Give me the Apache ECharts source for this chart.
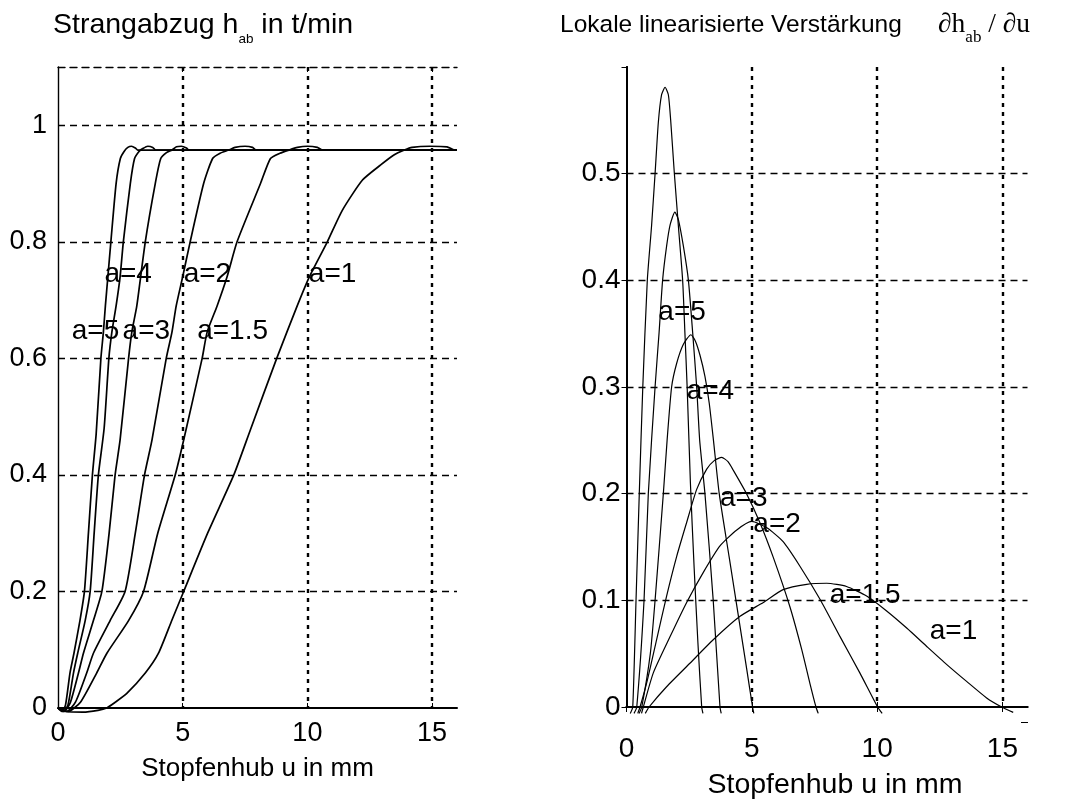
<!DOCTYPE html>
<html>
<head>
<meta charset="utf-8">
<script src="https://cdn.jsdelivr.net/npm/echarts@6/dist/echarts.min.js"></script>
<style>
  html, body { margin: 0; padding: 0; background: #fff; }
  #chart { width: 1081px; height: 799px; }
</style>
</head>
<body>
<div id="chart"></div>
<script>
// Strangabzug h_ab (t/min) über Stopfenhub u (mm) für verschiedene Formparameter a
const strangA5  = [[0,0],[0.15,-0.006],[0.3,0.005],[0.48,0.06],[0.64,0.094],[0.88,0.15],[1.06,0.2],[1.22,0.3],[1.38,0.4],[1.53,0.47],[1.72,0.6],[1.82,0.645],[1.9,0.69],[2.0,0.74],[2.12,0.8],[2.33,0.9],[2.5,0.943],[2.65,0.955],[2.8,0.962],[2.95,0.964],[3.1,0.961],[3.2,0.9575],[16,0.9575]];
const strangA4  = [[0,0],[0.2,-0.006],[0.4,0.005],[0.62,0.06],[0.79,0.094],[1.09,0.15],[1.29,0.2],[1.45,0.3],[1.62,0.4],[1.85,0.48],[2.04,0.6],[2.16,0.645],[2.33,0.69],[2.49,0.74],[2.62,0.8],[2.9,0.9],[3.07,0.943],[3.25,0.955],[3.4,0.96],[3.6,0.964],[3.8,0.962],[3.92,0.9575],[16,0.9575]];
const strangA3  = [[0,0],[0.25,-0.006],[0.5,0.01],[0.82,0.06],[1.02,0.094],[1.42,0.15],[1.76,0.2],[2.05,0.3],[2.29,0.4],[2.49,0.46],[2.83,0.6],[2.96,0.645],[3.16,0.69],[3.5,0.8],[3.9,0.9],[4.12,0.943],[4.35,0.953],[4.57,0.9575],[4.75,0.963],[4.95,0.964],[5.15,0.961],[5.25,0.9575],[16,0.9575]];
const strangA2  = [[0,0],[0.35,-0.006],[0.7,0.01],[1.15,0.06],[1.42,0.094],[2.09,0.15],[2.69,0.2],[3.1,0.3],[3.47,0.4],[3.77,0.46],[4.34,0.6],[4.57,0.645],[4.74,0.69],[5.0,0.74],[5.3,0.8],[5.84,0.9],[6.2,0.943],[6.5,0.952],[6.85,0.9575],[7.1,0.962],[7.5,0.964],[7.8,0.962],[7.95,0.9575],[16,0.9575]];
const strangA15 = [[0,0],[0.4,-0.006],[0.9,0.01],[1.55,0.06],[1.96,0.094],[2.83,0.15],[3.43,0.2],[4.0,0.3],[4.7,0.4],[5.04,0.46],[5.78,0.6],[5.98,0.645],[6.38,0.69],[6.78,0.74],[7.18,0.8],[8.12,0.9],[8.52,0.943],[8.9,0.952],[9.26,0.9575],[9.6,0.962],[10.0,0.964],[10.4,0.962],[10.6,0.9575],[16,0.9575]];
const strangA1  = [[0,0],[0.3,-0.006],[1.0,-0.007],[1.6,-0.004],[1.95,0.0],[2.3,0.01],[2.76,0.025],[3.5,0.06],[4.03,0.094],[4.57,0.151],[5.04,0.2],[6.0,0.3],[7.05,0.4],[7.72,0.478],[8.77,0.6],[9.6,0.691],[10.08,0.74],[10.8,0.8],[11.4,0.854],[12.21,0.906],[12.94,0.932],[13.47,0.949],[13.89,0.9575],[14.2,0.962],[14.9,0.964],[15.6,0.963],[15.9,0.9575],[16,0.9575]];

// Lokale linearisierte Verstärkung dh_ab/du über u
const gainA5  = [[0.15,-0.006],[0.25,0],[0.38,0.1],[0.51,0.2],[0.65,0.3],[0.83,0.4],[1.0,0.451],[1.14,0.5],[1.27,0.548],[1.4,0.574],[1.54,0.581],[1.67,0.574],[1.76,0.551],[1.91,0.5],[2.07,0.451],[2.24,0.4],[2.33,0.351],[2.42,0.3],[2.55,0.21],[2.7,0.13],[2.85,0.06],[3.0,0],[3.05,-0.006]];
const gainA4  = [[0.3,-0.006],[0.41,0],[0.7,0.1],[0.87,0.2],[1.14,0.3],[1.3,0.351],[1.44,0.4],[1.6,0.432],[1.74,0.452],[1.93,0.464],[2.07,0.457],[2.27,0.432],[2.47,0.4],[2.64,0.351],[2.8,0.3],[2.92,0.25],[3.13,0.2],[3.46,0.1],[3.73,0],[3.78,-0.006]];
const gainA3  = [[0.5,-0.006],[0.61,0],[0.95,0.05],[1.14,0.1],[1.47,0.2],[1.62,0.25],[1.8,0.3],[2.0,0.322],[2.27,0.34],[2.57,0.349],[2.75,0.343],[2.93,0.33],[3.13,0.31],[3.3,0.285],[3.47,0.25],[3.7,0.2],[4.1,0.14],[4.5,0.08],[4.8,0.035],[5.03,0],[5.08,-0.006]];
const gainA2  = [[0.45,-0.006],[0.54,0],[0.81,0.023],[1.2,0.063],[1.6,0.104],[2.0,0.141],[2.4,0.173],[2.8,0.204],[3.2,0.223],[3.5,0.231],[3.8,0.234],[4.05,0.23],[4.26,0.222],[4.79,0.2],[5.32,0.173],[5.86,0.14],[6.52,0.094],[6.99,0.054],[7.32,0.022],[7.56,0],[7.65,-0.006]];
const gainA15 = [[0.6,-0.006],[0.67,0],[1.07,0.032],[1.74,0.066],[2.4,0.098],[3.06,0.126],[3.73,0.151],[4.4,0.166],[5.0,0.174],[5.6,0.168],[6.25,0.155],[6.92,0.132],[7.72,0.101],[8.52,0.066],[9.31,0.032],[10.02,0],[10.2,-0.006]];
const gainA1  = [[0.75,-0.006],[0.9,0],[1.6,0.019],[2.53,0.041],[3.46,0.063],[4.53,0.085],[5.46,0.098],[6.25,0.11],[7.19,0.115],[7.99,0.116],[8.78,0.113],[9.58,0.104],[10.38,0.09],[11.18,0.074],[11.97,0.057],[12.77,0.04],[13.57,0.024],[14.37,0.0085],[14.97,0],[15.43,-0.005]];

// Kurvenbeschriftungen (Text, Ankerpunkt in Achsenkoordinaten)
const leftLabelText   = ['a=4', 'a=2', 'a=1', 'a=5', 'a=3', 'a=1.5'];
const leftLabelAnchor = [[1.86,0.744],[5.04,0.744],[10.06,0.744],[0.55,0.646],[2.59,0.646],[5.58,0.646]];
const rightLabelText   = ['a=5', 'a=4', 'a=3', 'a=2', 'a=1.5', 'a=1'];
const rightLabelAnchor = [[1.27,0.37],[2.40,0.296],[3.73,0.196],[5.06,0.171],[8.11,0.105],[12.1,0.071]];

// Achsen
const xTickStep = 5, xMin = 0, xMax = 16;
const xTickValues = [0, 5, 10, 15];
const hTickStep = 0.2, hMax = 1.1;
const gTickStep = 0.1, gMax = 0.6;
const xAxisTitle = 'Stopfenhub u in mm';

const SANS = '"Liberation Sans", Arial, Helvetica, sans-serif';
const SERIF = '"Liberation Serif", "Times New Roman", "DejaVu Serif", serif';
const BLACK = '#000';

function txt(size) {
  return { color: BLACK, fontSize: size, fontFamily: SANS, fontWeight: 'normal' };
}
function serif(size) {
  return { color: BLACK, fontSize: size, fontFamily: SERIF, fontWeight: 'normal' };
}
const dashedH = { color: BLACK, width: 1.4, type: [7, 5] };
const dottedV = { color: BLACK, width: 2.4, type: [4, 5] };
const tickIn = { show: true, inside: true, length: 5, lineStyle: { color: BLACK, width: 1 } };
const xTickIn = { ...tickIn, customValues: xTickValues };
// vertikale Gitterlinien nur bei 5, 10, 15
const xGrid = { show: true, showMinLine: false, showMaxLine: true, lineStyle: dottedV };

function curve(data, xi, yi, width) {
  return {
    type: 'line', data: data, xAxisIndex: xi, yAxisIndex: yi,
    showSymbol: false, symbol: 'none', smooth: 0.2, clip: false,
    lineStyle: { color: BLACK, width: width }, silent: true, z: 3
  };
}
function labels(texts, anchors, xi, yi) {
  return {
    type: 'scatter', xAxisIndex: xi, yAxisIndex: yi, symbolSize: 0, silent: true, z: 5,
    itemStyle: { opacity: 1, color: BLACK },
    data: anchors.map((p, i) => ({ value: p, name: texts[i] })),
    label: { show: true, position: 'right', distance: 0, formatter: '{b}', opacity: 1,
             textBorderWidth: 0, ...txt(28) }
  };
}

const chart = echarts.init(document.getElementById('chart'), null, { renderer: 'canvas' });
chart.setOption({
  animation: false,
  backgroundColor: '#fff',
  title: [
    { left: 53, top: 4, padding: 0, text: '{m|Strangabzug h}{s|ab}{m| in t/min}',
      textStyle: { fontWeight: 'normal', rich: {
        m: { ...txt(28.5), lineHeight: 42 },
        s: { ...txt(13.5), lineHeight: 13, verticalAlign: 'bottom' } } } },
    { left: 560, top: 4, padding: 0, text: '{m|Lokale linearisierte Verstärkung}',
      textStyle: { fontWeight: 'normal', rich: { m: { ...txt(24.5), lineHeight: 42 } } } },
    { left: 938, top: 4, padding: 0, text: '{g|∂h}{s|ab}{g| / ∂u}',
      textStyle: { fontWeight: 'normal', rich: {
        g: { ...serif(27.5), lineHeight: 42 },
        s: { ...serif(17), lineHeight: 15, verticalAlign: 'bottom' } } } }
  ],
  grid: [
    { left: 58, top: 67, width: 399, height: 641, outerBoundsMode: 'none', containLabel: false },
    { left: 626.5, top: 67, width: 401, height: 640, outerBoundsMode: 'none', containLabel: false }
  ],
  xAxis: [
    { gridIndex: 0, type: 'value', min: xMin, max: xMax, interval: xTickStep,
      axisLine: { lineStyle: { color: BLACK, width: 2 } }, axisTick: xTickIn,
      axisLabel: { ...txt(27), margin: 12, showMaxLabel: false },
      splitLine: xGrid,
      name: xAxisTitle, nameLocation: 'middle', nameGap: 48, nameTextStyle: txt(26) },
    { gridIndex: 0, type: 'value', position: 'top', min: xMin, max: xMax, interval: xTickStep,
      axisLine: { show: true, lineStyle: dashedH }, axisTick: xTickIn,
      axisLabel: { show: false }, splitLine: { show: false } },
    { gridIndex: 1, type: 'value', min: xMin, max: xMax, interval: xTickStep,
      axisLine: { lineStyle: { color: BLACK, width: 2 } }, axisTick: xTickIn,
      axisLabel: { ...txt(28), margin: 28, showMaxLabel: false },
      splitLine: xGrid,
      name: xAxisTitle, nameLocation: 'middle', nameGap: 64,
      nameTextStyle: { ...txt(28.5), padding: [0, 0, 0, 16] } },
    { gridIndex: 1, type: 'value', position: 'top', min: xMin, max: xMax, interval: xTickStep,
      axisLine: { show: true, lineStyle: { color: BLACK, width: 2 } }, axisTick: xTickIn,
      axisLabel: { show: false }, splitLine: { show: false } }
  ],
  yAxis: [
    { gridIndex: 0, type: 'value', min: 0, max: hMax, interval: hTickStep,
      axisLine: { show: true, lineStyle: { color: BLACK, width: 1.4 } }, axisTick: tickIn,
      axisLabel: { ...txt(27), margin: 11, showMaxLabel: false },
      splitLine: { show: true, showMinLine: false, showMaxLine: false, lineStyle: dashedH } },
    { gridIndex: 1, type: 'value', min: 0, max: gMax, interval: gTickStep,
      axisLine: { show: true, lineStyle: { color: BLACK, width: 2 } }, axisTick: tickIn,
      axisLabel: { ...txt(28), margin: 6, showMaxLabel: false },
      splitLine: { show: true, showMinLine: false, showMaxLine: false, lineStyle: dashedH } },
    { gridIndex: 1, type: 'value', position: 'right', min: 0, max: gMax, interval: gTickStep,
      axisLine: { show: true, lineStyle: { color: BLACK, width: 2 } }, axisTick: tickIn,
      axisLabel: { show: false }, splitLine: { show: false } }
  ],
  graphic: [
    { type: 'line', shape: { x1: 1021, y1: 722.5, x2: 1028, y2: 722.5 }, style: { stroke: BLACK, lineWidth: 1 } }
  ],
  series: [
    curve(strangA5, 0, 0, 1.7), curve(strangA4, 0, 0, 1.7), curve(strangA3, 0, 0, 1.7),
    curve(strangA2, 0, 0, 1.7), curve(strangA15, 0, 0, 1.7), curve(strangA1, 0, 0, 1.7),
    curve(gainA5, 2, 1, 1.2), curve(gainA4, 2, 1, 1.2), curve(gainA3, 2, 1, 1.2),
    curve(gainA2, 2, 1, 1.2), curve(gainA15, 2, 1, 1.2), curve(gainA1, 2, 1, 1.2),
    labels(leftLabelText, leftLabelAnchor, 0, 0),
    labels(rightLabelText, rightLabelAnchor, 2, 1)
  ]
});
</script>
</body>
</html>
